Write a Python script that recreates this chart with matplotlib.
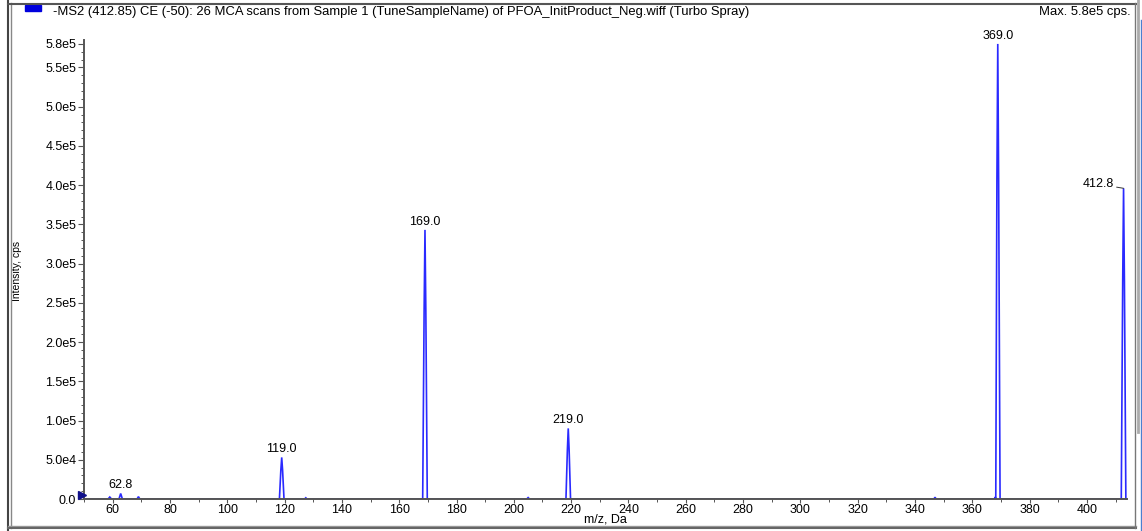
import numpy as np
import matplotlib
matplotlib.use("Agg")
import matplotlib.pyplot as plt
from matplotlib.lines import Line2D
from matplotlib.patches import Rectangle
from matplotlib.ticker import MultipleLocator, FixedLocator, FuncFormatter
from matplotlib.transforms import blended_transform_factory

# profile spectrum (m/z, cps)
mz = [
    50.0, 58.4, 59.0, 59.6, 62.2, 62.8, 63.4, 68.5, 69.0, 69.5,
    118.2, 118.7, 119.0, 119.3, 119.8,
    127.0, 127.4, 127.8,
    168.2, 168.7, 169.0, 169.3, 169.8,
    204.5, 205.0, 205.5,
    218.2, 218.7, 219.0, 219.3, 219.8,
    346.6, 347.0, 347.4,
    367.7, 368.0, 368.2, 368.6, 368.9, 369.2, 369.7,
    412.0, 412.5, 412.8, 413.1, 413.6, 414.0,
]
intensity = [
    0, 0, 2500, 0, 0, 7000, 0, 0, 3000, 0,
    0, 37000, 53000, 37000, 0,
    0, 1500, 0,
    0, 240000, 343000, 240000, 0,
    0, 1800, 0,
    0, 63000, 90000, 63000, 0,
    0, 2200, 0,
    0, 2500, 0, 406000, 580000, 406000, 0,
    0, 277000, 396000, 277000, 0, 0,
]

peak_labels = ["62.8", "119.0", "169.0", "219.0", "369.0", "412.8"]
peak_mz = [62.8, 119.0, 169.0, 219.0, 368.9, 412.8]
peak_height = [7000, 53000, 343000, 90000, 580000, 396000]

y_ticks = [0, 5e4, 1e5, 1.5e5, 2e5, 2.5e5, 3e5, 3.5e5, 4e5, 4.5e5, 5e5, 5.5e5, 5.8e5]

title = ("-MS2 (412.85) CE (-50): 26 MCA scans from Sample 1 (TuneSampleName) "
         "of PFOA_InitProduct_Neg.wiff (Turbo Spray)")
max_text = "Max. 5.8e5 cps."

plt.rcParams["font.family"] = ["Liberation Sans", "DejaVu Sans"]

W, H = 1142, 531
fig = plt.figure(figsize=(W / 100, H / 100), dpi=100)
ax = fig.add_axes([84 / W, 1 - 499 / H, (1127 - 84) / W, (499 - 40) / H])

ax.plot(mz, intensity, color="#2a2aff", lw=1.2, solid_joinstyle="miter", zorder=2)
ax.set_xlim(50, 414)
ax.set_ylim(0, 5.85e5)

for s in ["top", "right"]:
    ax.spines[s].set_visible(False)
for s in ["left", "bottom"]:
    ax.spines[s].set_color("#555555")
    ax.spines[s].set_linewidth(1.4)
    ax.spines[s].set_zorder(3)


def sci(v, pos=None):
    if v == 0:
        return "0.0"
    e = int(np.floor(np.log10(v)))
    return f"{v / 10 ** e:.1f}e{e}"


ax.set_xticks(np.arange(60, 401, 20))
ax.xaxis.set_minor_locator(MultipleLocator(10))
ax.yaxis.set_major_locator(FixedLocator(y_ticks))
ax.yaxis.set_minor_locator(MultipleLocator(1e4))
ax.yaxis.set_major_formatter(FuncFormatter(sci))
ax.tick_params(axis="y", which="major", length=4, width=0.8, color="#555555",
               labelsize=9, pad=1.5)
ax.tick_params(axis="x", which="major", length=3, width=0.8, color="#555555",
               labelsize=9, pad=0.5)
ax.tick_params(axis="both", which="minor", length=2, width=0.7, color="#555555")

ax.set_xlabel("m/z, Da", fontsize=9, labelpad=-1.5)
ax.set_ylabel("Intensity, cps", fontsize=7.5,
              family=["Liberation Sans Narrow", "Liberation Sans"])
ax.yaxis.set_label_coords(-0.0594, 0.497)

for lab, x, h in zip(peak_labels, peak_mz, peak_height):
    if lab == "412.8":
        ax.annotate(lab, xy=(x, h), xytext=(-7, 3), textcoords="offset points",
                    ha="right", va="center", fontsize=9,
                    arrowprops=dict(arrowstyle="-", color="#333333", lw=0.7,
                                    shrinkA=0, shrinkB=0))
    else:
        ax.annotate(lab, xy=(x, h), xytext=(0, 1.5), textcoords="offset points",
                    ha="center", va="bottom", fontsize=9)

# offset marker at the y axis
tr = blended_transform_factory(ax.transAxes, ax.transData)
ax.plot([-0.002], [5000], marker=">", ms=6, color="#10108a", transform=tr,
        clip_on=False, zorder=4)

# window chrome
fig.add_artist(Rectangle((25 / W, 1 - 11 / H), 16 / W, 6 / H,
                         transform=fig.transFigure, color="#0000dd"))
fig.text(53 / W, 1 - 12 / H, title, fontsize=9.4, va="center", ha="left")
fig.text(1131 / W, 1 - 12 / H, max_text, fontsize=9.4, va="center", ha="right")


def fline(xs, ys, **kw):
    fig.add_artist(Line2D([x / W for x in xs], [1 - y / H for y in ys],
                          transform=fig.transFigure, **kw))


fline([8, 8], [0, 531], color="#444444", lw=1.5)
fline([10.5, 10.5], [3, 528], color="#888888", lw=1)
fline([8, 1136], [3.5, 3.5], color="#555555", lw=1.5)
fline([8, 1136], [525.5, 525.5], color="#999999", lw=1)
fline([8, 1136], [528, 528], color="#666666", lw=1.5)
fline([1134.5, 1134.5], [3, 528], color="#777777", lw=1)
fline([1137.5, 1137.5], [0, 432], color="#aaaaaa", lw=2)
fline([1140.5, 1140.5], [20, 531], color="#4a7fd0", lw=1)

fig.savefig("out.png", dpi=100)
